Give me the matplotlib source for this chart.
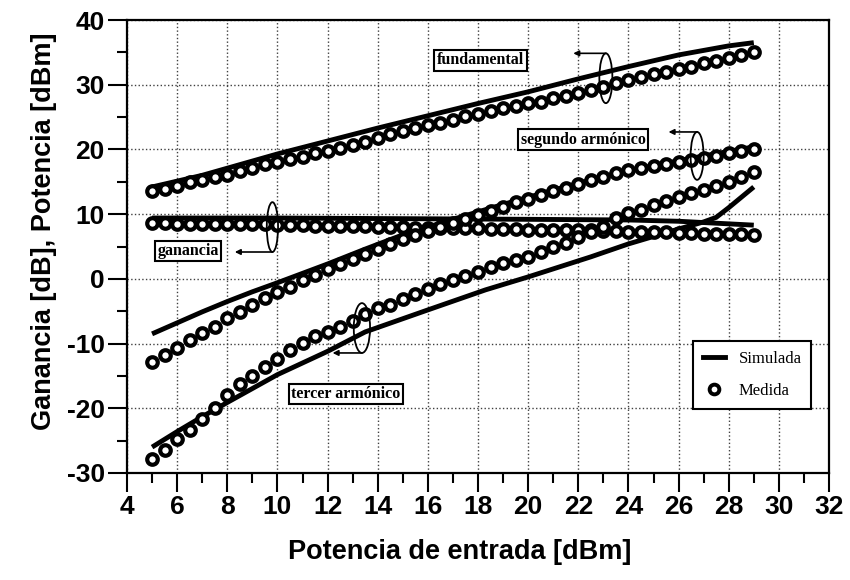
import numpy as np
import matplotlib
matplotlib.use("Agg")
import matplotlib.pyplot as plt
from matplotlib.patches import Ellipse
from matplotlib.lines import Line2D

plt.rcParams['font.family'] = ['Liberation Sans', 'DejaVu Sans']
plt.rcParams['axes.unicode_minus'] = False

# Medida: potencia de entrada cada 0.5 dBm
x_meas = np.arange(5, 29.01, 0.5)

fund_meas = [13.5, 13.9, 14.3, 14.9, 15.3, 15.8, 16.1, 16.7, 17.1, 17.7,
             18.0, 18.5, 18.9, 19.4, 19.8, 20.2, 20.7, 21.2, 21.8, 22.4,
             22.9, 23.3, 23.8, 24.1, 24.6, 25.1, 25.5, 25.9, 26.4, 26.7,
             27.2, 27.4, 27.9, 28.2, 28.7, 29.2, 29.7, 30.3, 30.8, 31.2,
             31.6, 32.0, 32.4, 32.8, 33.3, 33.7, 34.2, 34.6, 35.0]

gain_meas = [8.6, 8.6, 8.5, 8.5, 8.5, 8.5, 8.4, 8.4, 8.4, 8.4,
             8.3, 8.3, 8.3, 8.2, 8.2, 8.2, 8.1, 8.1, 8.0, 8.0,
             8.0, 7.9, 7.9, 7.9, 7.8, 7.8, 7.8, 7.7, 7.7, 7.7,
             7.6, 7.6, 7.6, 7.5, 7.5, 7.5, 7.4, 7.4, 7.3, 7.3,
             7.2, 7.2, 7.1, 7.1, 7.0, 7.0, 6.9, 6.9, 6.7]

second_meas = [-12.8, -11.8, -10.75, -9.5, -8.4, -7.4, -6.1, -5.1, -4.0, -2.9,
               -2.0, -1.2, -0.2, 0.6, 1.5, 2.3, 3.1, 3.8, 4.6, 5.4,
               6.1, 6.8, 7.4, 8.0, 8.6, 9.2, 9.9, 10.5, 11.1, 11.8,
               12.4, 12.9, 13.5, 14.1, 14.6, 15.2, 15.8, 16.3, 16.8, 17.1,
               17.4, 17.7, 18.0, 18.3, 18.6, 19.0, 19.4, 19.7, 20.0]

third_meas = [-27.9, -26.4, -24.7, -23.3, -21.6, -20.0, -18.0, -16.3, -15.0, -13.6,
              -12.4, -11.0, -9.9, -8.9, -8.2, -7.4, -6.5, -5.4, -4.5, -4.0,
              -3.1, -2.3, -1.6, -0.8, -0.2, 0.5, 1.1, 1.8, 2.4, 2.9,
              3.4, 4.2, 4.9, 5.5, 6.4, 7.3, 8.0, 9.4, 10.2, 10.7,
              11.4, 12.1, 12.7, 13.2, 13.7, 14.4, 15.0, 15.8, 16.5]

# Simulada
fund_sim_x = [5, 7, 10, 12, 14, 16, 18, 20, 22, 24, 26, 28, 29]
fund_sim_y = [14.2, 16.0, 19.3, 21.3, 23.3, 25.2, 27.1, 28.9, 30.9, 32.8, 34.6, 36.0, 36.5]

gain_sim_x = [5, 10, 15, 20, 24, 26, 27.5, 29]
gain_sim_y = [9.4, 9.4, 9.3, 9.2, 9.1, 8.9, 8.6, 8.3]

second_sim_x = [5, 6, 7, 8, 9, 10, 12, 13.5, 15, 17, 19, 21, 23, 25, 27, 29]
second_sim_y = [-8.5, -6.8, -5.1, -3.5, -2.0, -0.6, 2.3, 4.6, 6.8, 9.2, 11.5, 13.7, 15.8, 17.5, 19.0, 20.4]

third_sim_x = [5, 6, 7, 8, 10, 12, 13.5, 16, 18.3, 20, 22.5, 24, 26, 27, 27.5, 28, 28.5, 29]
third_sim_y = [-26.0, -23.6, -21.3, -19.1, -14.8, -11.2, -8.2, -4.8, -1.7, 0.3, 3.4, 5.4, 7.7, 8.8, 9.5, 11.0, 12.6, 14.2]

fig = plt.figure(figsize=(8.5, 5.8), dpi=100)
ax = fig.add_axes([127 / 850, 1 - 473 / 580, 702 / 850, 453 / 580])

sim_style = dict(color='black', lw=3.5, solid_capstyle='butt', solid_joinstyle='round', zorder=3)
for sx, sy in [(fund_sim_x, fund_sim_y), (gain_sim_x, gain_sim_y),
               (second_sim_x, second_sim_y), (third_sim_x, third_sim_y)]:
    ax.plot(sx, sy, **sim_style)

meas_style = dict(ls='none', marker='o', ms=7.6, mew=3.0, mfc='white', mec='black', zorder=4)
for my in [fund_meas, gain_meas, second_meas, third_meas]:
    ax.plot(x_meas, my, **meas_style)

ax.set_xlim(4, 32)
ax.set_ylim(-30, 40)
ax.set_xticks(range(4, 33, 2))
ax.set_xticks(range(5, 32, 2), minor=True)
ax.set_yticks(range(-30, 41, 10))
ax.set_yticks(range(-25, 40, 10), minor=True)
ax.tick_params(which='major', direction='out', length=14, width=1.5, labelsize=19, pad=2)
ax.tick_params(which='minor', direction='out', length=7, width=1.5)
for lab in ax.get_xticklabels() + ax.get_yticklabels():
    lab.set_fontweight('bold')
for sp in ax.spines.values():
    sp.set_linewidth(1.6)
ax.grid(True, which='major', ls=':', lw=1.0, color='0.25')
ax.set_axisbelow(True)

fig.text(460 / 850, 1 - 552 / 580, 'Potencia de entrada [dBm]', ha='center', va='center',
         fontsize=19.5, fontweight='bold')
fig.text(44 / 850, 1 - 231 / 580, 'Ganancia [dB], Potencia [dBm]', ha='center', va='center',
         rotation=90, fontsize=19.5, fontweight='bold')

# etiquetas con elipse y flecha
box = dict(boxstyle='square,pad=0.15', fc='white', ec='black', lw=1.5)
serif = dict(family='Liberation Serif', fontsize=11.5, fontweight='bold', ha='center', va='center', zorder=6)
arrow = dict(arrowstyle='-|>', lw=1.2, color='black', mutation_scale=8, shrinkA=0, shrinkB=0)

ax.text(18.1, 33.8, 'fundamental', bbox=box, **serif)
ax.add_patch(Ellipse((23.1, 31.0), 0.52, 7.7, fill=False, lw=1.3, zorder=5))
ax.annotate('', xy=(21.8, 34.85), xytext=(23.1, 34.85), arrowprops=arrow, zorder=5)

ax.text(22.2, 21.5, 'segundo armónico', bbox=box, **serif)
ax.add_patch(Ellipse((26.74, 19.0), 0.52, 7.4, fill=False, lw=1.3, zorder=5))
ax.annotate('', xy=(25.6, 22.7), xytext=(26.74, 22.7), arrowprops=arrow, zorder=5)

ax.text(6.43, 4.3, 'ganancia', bbox=box, **serif)
ax.add_patch(Ellipse((9.8, 8.0), 0.45, 7.7, fill=False, lw=1.3, zorder=5))
ax.annotate('', xy=(8.3, 4.15), xytext=(9.8, 4.15), arrowprops=arrow, zorder=5)

ax.text(12.74, -17.8, 'tercer armónico', bbox=box, **serif)
ax.add_patch(Ellipse((13.37, -7.6), 0.65, 7.7, fill=False, lw=1.3, zorder=5))
ax.annotate('', xy=(12.2, -11.45), xytext=(13.37, -11.45), arrowprops=arrow, zorder=5)

handles = [Line2D([], [], color='black', lw=3.5),
           Line2D([], [], ls='none', marker='o', ms=7.0, mew=2.8, mfc='white', mec='black')]
leg = ax.legend(handles, ['Simulada', 'Medida'], loc='center', bbox_to_anchor=(0.891, 0.2165),
                prop={'family': 'Liberation Serif', 'size': 12}, handlelength=1.3,
                labelspacing=1.0, fancybox=False, framealpha=1, borderpad=0.6)
leg.get_frame().set_edgecolor('black')
leg.get_frame().set_linewidth(1.5)

fig.savefig('out.png', dpi=100)
